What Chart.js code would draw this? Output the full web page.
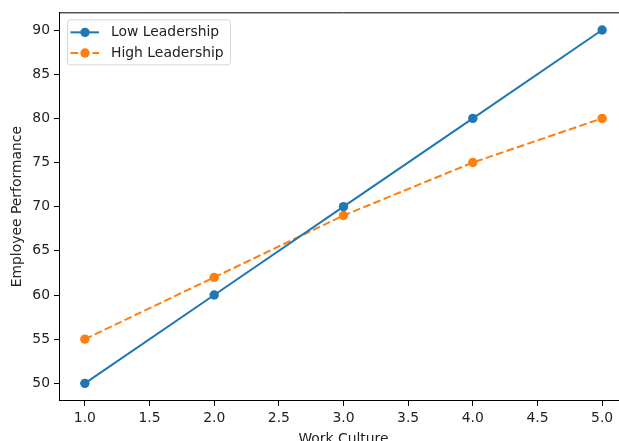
<!DOCTYPE html>
<html>
<head>
<meta charset="utf-8">
<script src="https://cdn.jsdelivr.net/npm/chart.js@4"></script>
<style>
  html, body { margin: 0; padding: 0; background: #fff; overflow: hidden; }
  #wrap { width: 619px; height: 441px; overflow: hidden; }
</style>
</head>
<body>
<div id="wrap"><canvas id="chart" width="640" height="460"></canvas></div>
<script>
    // datos
    const workCulture = [1.0, 2.0, 3.0, 4.0, 5.0];
    const lowLeadership = [50, 60, 70, 80, 90];
    const highLeadership = [55, 62, 69, 75, 80];
    const xTicks = [1.0, 1.5, 2.0, 2.5, 3.0, 3.5, 4.0, 4.5, 5.0];
    const yTicks = [50, 55, 60, 65, 70, 75, 80, 85, 90];

    const FONT = 'DejaVu Sans';
    const tickFont = { family: FONT, size: 13.9 };

    // marco superior / derecho como en matplotlib
    const frame = {
        id: 'frame',
        afterDraw(chart) {
            const { ctx, chartArea: a } = chart;
            ctx.save();
            ctx.strokeStyle = '#000';
            ctx.lineWidth = 1;
            ctx.beginPath();
            ctx.moveTo(a.left, a.top + 0.5);
            ctx.lineTo(a.right, a.top + 0.5);
            ctx.moveTo(a.right - 0.5, a.top);
            ctx.lineTo(a.right - 0.5, a.bottom);
            ctx.stroke();
            ctx.restore();
        }
    };

    // leyenda estilo matplotlib (linea + marcador)
    const mplLegend = {
        id: 'mplLegend',
        afterDraw(chart) {
            const { ctx, chartArea: a } = chart;
            const x0 = a.left + 8, y0 = a.top + 7, w = 163, h = 45;
            ctx.save();
            ctx.fillStyle = 'rgba(255,255,255,0.8)';
            ctx.strokeStyle = '#d6d6d6';
            ctx.lineWidth = 1;
            ctx.beginPath();
            ctx.roundRect(x0 + 0.5, y0 + 0.5, w, h, 3);
            ctx.fill();
            ctx.stroke();
            chart.data.datasets.forEach((ds, i) => {
                const y = y0 + 13 + i * 20.7;
                ctx.strokeStyle = ds.borderColor;
                ctx.lineWidth = ds.borderWidth;
                ctx.setLineDash(ds.borderDash || []);
                ctx.beginPath();
                ctx.moveTo(x0 + 3.5, y);
                ctx.lineTo(x0 + 32, y);
                ctx.stroke();
                ctx.setLineDash([]);
                ctx.fillStyle = ds.backgroundColor;
                ctx.beginPath();
                ctx.arc(x0 + 18, y, ds.pointRadius, 0, Math.PI * 2);
                ctx.fill();
                ctx.fillStyle = '#222';
                ctx.font = '13.9px "' + FONT + '"';
                ctx.textBaseline = 'middle';
                ctx.fillText(ds.label, x0 + 44, y);
            });
            ctx.restore();
        }
    };

    function makeChart() {
        const ctx = document.getElementById('chart').getContext('2d');
        new Chart(ctx, {
            type: 'line',
            data: {
                datasets: [{
                    label: 'Low Leadership',
                    data: workCulture.map((x, i) => ({ x: x, y: lowLeadership[i] })),
                    borderColor: '#1f77b4',
                    backgroundColor: '#1f77b4',
                    borderWidth: 2,
                    pointRadius: 4.7,
                    pointHoverRadius: 4.7,
                    pointBorderWidth: 0,
                    tension: 0
                }, {
                    label: 'High Leadership',
                    data: workCulture.map((x, i) => ({ x: x, y: highLeadership[i] })),
                    borderColor: '#ff7f0e',
                    backgroundColor: '#ff7f0e',
                    borderWidth: 2,
                    borderDash: [7.7, 3.3],
                    pointRadius: 4.7,
                    pointHoverRadius: 4.7,
                    pointBorderWidth: 0,
                    tension: 0
                }]
            },
            options: {
                responsive: false,
                animation: false,
                events: [],
                layout: { padding: { top: 12, right: 12, left: 0, bottom: 0 } },
                plugins: {
                    legend: { display: false },
                    tooltip: { enabled: false }
                },
                scales: {
                    x: {
                        type: 'linear',
                        min: 0.8,
                        max: 5.2,
                        afterBuildTicks: s => { s.ticks = xTicks.map(v => ({ value: v })); },
                        afterFit: s => { s.height = 59; },
                        grid: { drawOnChartArea: false, drawTicks: true, tickLength: 5, color: '#000', tickWidth: 1 },
                        border: { display: true, color: '#000', width: 1 },
                        ticks: {
                            color: '#222', font: tickFont, padding: 4, maxRotation: 0, autoSkip: false,
                            callback: v => Number(v).toFixed(1)
                        },
                        title: { display: true, text: 'Work Culture', color: '#222', font: tickFont, padding: { top: 0, bottom: 12.5 } }
                    },
                    y: {
                        type: 'linear',
                        min: 48,
                        max: 92,
                        afterBuildTicks: s => { s.ticks = yTicks.map(v => ({ value: v })); },
                        afterFit: s => { s.width = 59; },
                        grid: { drawOnChartArea: false, drawTicks: true, tickLength: 5, color: '#000', tickWidth: 1 },
                        border: { display: true, color: '#000', width: 1 },
                        ticks: {
                            color: '#222', font: tickFont, padding: 4, autoSkip: false,
                            callback: v => String(v)
                        },
                        title: { display: true, text: 'Employee Performance', color: '#222', font: tickFont, padding: { top: 9, bottom: 0 } }
                    }
                }
            },
            plugins: [frame, mplLegend]
        });
    }

    document.addEventListener('DOMContentLoaded', makeChart);
</script>
</body>
</html>
